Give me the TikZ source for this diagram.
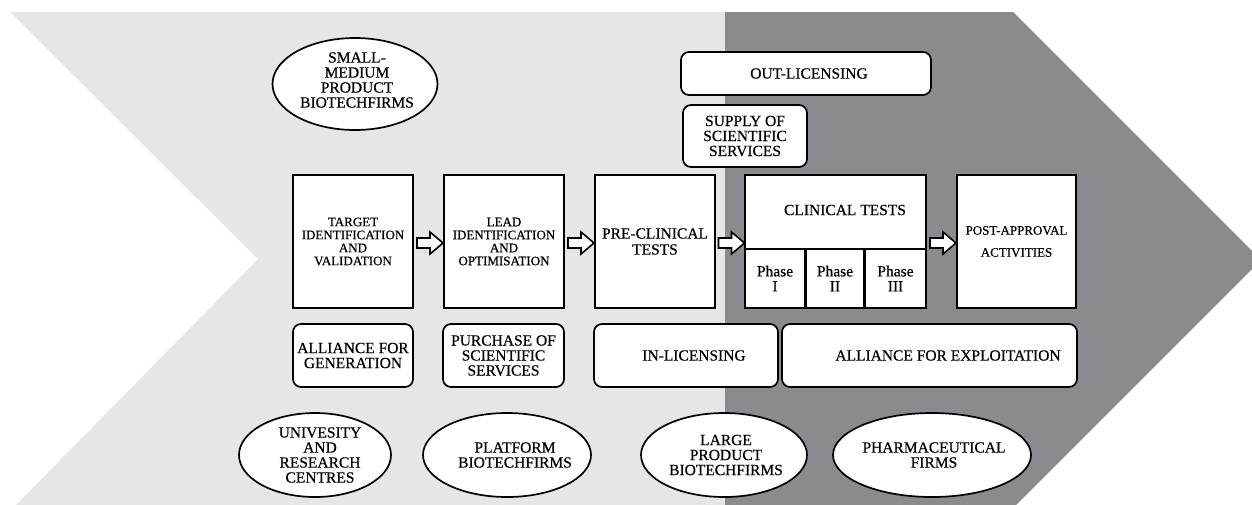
\documentclass[tikz,border=0pt]{standalone}
\usepackage{fontspec}
\setmainfont{Liberation Serif}[FakeBold=0.5]
\usetikzlibrary{shapes.geometric,calc}
\definecolor{lightbg}{RGB}{230,230,232}
\definecolor{darkbg}{RGB}{138,139,143}
\newcommand{\blkarrow}[2]{%
  \draw[arrowsty] ($(#1.east)!.5!(#2.west)+(-11.5,-3.5)$) -- ++(13,0) -- ++(0,-6) -- ++(13,11) -- ++(-13,11) -- ++(0,-6) -- ++(-13,0) -- cycle;}
\begin{document}
\begin{tikzpicture}[x=1pt,y=-1pt,
  box/.style={draw,fill=white,line width=1.7pt,inner sep=0pt},
  txt/.style={font=\fontsize{15.5}{15}\selectfont,align=center,inner sep=0pt},
  smalltxt/.style={font=\fontsize{13}{13}\selectfont,align=center,inner sep=0pt},
  mainbox/.style={box,minimum width=120pt,minimum height=133pt},
  rbox/.style={box,rounded corners=8pt},
  ell/.style={box,ellipse},
  arrowsty/.style={draw,fill=white,line width=1.6pt,line join=miter}
]
\useasboundingbox (0,0) rectangle (1252,504);
\clip (0,0) rectangle (1252,504);
% background chevrons
\fill[lightbg] (10,12) -- (725,12) -- (725,506) -- (15,506) -- (258,259) -- cycle;
\fill[darkbg] (725,12) -- (1013,12) -- (1261,260) -- (1015,506) -- (725,506) -- cycle;

% main process boxes
\node[mainbox,smalltxt] (target) at (353,241.5) {TARGET\\IDENTIFICATION\\AND\\VALIDATION};
\node[mainbox,smalltxt] (lead) at (504,241.5) {LEAD\\IDENTIFICATION\\AND\\OPTIMISATION};
\node[mainbox,txt,font=\fontsize{15.5}{16}\selectfont] (pre) at (655,241.5) {PRE-CLINICAL\\TESTS};
\node[box,minimum width=181pt,minimum height=133pt] (clin) at (835.5,241.5) {};
\node[txt] (clintxt) at (845,210) {CLINICAL TESTS};
\node[box,txt,minimum width=60pt,minimum height=59pt] (ph1) at (775,278.5) {Phase\\I};
\node[box,txt,minimum width=58pt,minimum height=59pt] (ph2) at (835,278.5) {Phase\\II};
\node[box,txt,minimum width=61pt,minimum height=59pt] (ph3) at (895.5,278.5) {Phase\\III};
\node[mainbox,smalltxt,minimum width=119pt] (post) at (1016.5,241.5) {POST-APPROVAL\\[9pt]ACTIVITIES};

% block arrows
\blkarrow{target}{lead}
\blkarrow{lead}{pre}
\blkarrow{pre}{clin}
\blkarrow{clin}{post}

% rounded boxes
\node[rbox,minimum width=250pt,minimum height=43pt] (outl) at (806,73.5) {};
\node[txt] (outltxt) at (809,73.5) {OUT-LICENSING};
\node[rbox,txt,minimum width=124pt,minimum height=62pt] (supply) at (745,136) {SUPPLY OF\\SCIENTIFIC\\SERVICES};
\node[rbox,txt,minimum width=120pt,minimum height=63pt] (allgen) at (353,355.5) {ALLIANCE FOR\\GENERATION};
\node[rbox,txt,minimum width=121pt,minimum height=63pt] (purch) at (503.5,355.5) {PURCHASE OF\\SCIENTIFIC\\SERVICES};
\node[rbox,minimum width=184pt,minimum height=63pt] (inlic) at (686,355.5) {};
\node[txt] (inlictxt) at (694,355.5) {IN-LICENSING};
\node[rbox,minimum width=295pt,minimum height=63pt] (allexp) at (929.5,355.5) {};
\node[txt] (allexptxt) at (948,355.5) {ALLIANCE FOR EXPLOITATION};

% ellipses
\node[ell,minimum width=165pt,minimum height=92pt] (small) at (355,84) {};
\node[txt] (smalltxt) at (357,80) {SMALL-\\MEDIUM\\PRODUCT\\BIOTECHFIRMS};
\node[ell,minimum width=152pt,minimum height=84pt] (univ) at (315,455) {};
\node[txt] (univtxt) at (320,455) {UNIVESITY\\AND\\RESEARCH\\CENTRES};
\node[ell,minimum width=168pt,minimum height=84pt] (plat) at (507,455) {};
\node[txt] (plattxt) at (515,455) {PLATFORM\\BIOTECHFIRMS};
\node[ell,minimum width=166pt,minimum height=84pt] (large) at (724,455) {};
\node[txt] (largetxt) at (726,455) {LARGE\\PRODUCT\\BIOTECHFIRMS};
\node[ell,minimum width=198pt,minimum height=84pt] (pharma) at (932,455) {};
\node[txt] (pharmatxt) at (934,455) {PHARMACEUTICAL\\FIRMS};
\end{tikzpicture}
\end{document}
